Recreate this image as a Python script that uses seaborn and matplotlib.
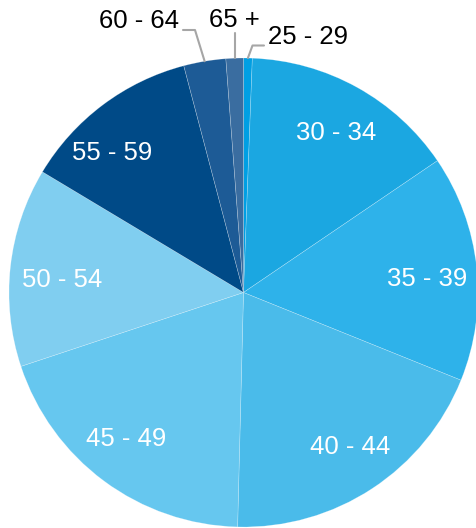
import numpy as np
import matplotlib
matplotlib.use("Agg")
import matplotlib.pyplot as plt
import seaborn as sns

# Age-group shares (percent), clockwise from 12 o'clock
age_groups = ["25 - 29", "30 - 34", "35 - 39", "40 - 44", "45 - 49",
              "50 - 54", "55 - 59", "60 - 64", "65 +"]
shares = [0.6, 14.9, 15.6, 19.3, 19.5, 13.7, 12.3, 2.9, 1.2]
slice_colors = ["#009FE3", "#1BA7E1", "#2EB2EA", "#4ABBEA", "#66C7EF",
                "#80CEF0", "#004A87", "#1D5B96", "#3A6DA0"]
outside_groups = ["25 - 29", "60 - 64", "65 +"]

sns.set_theme(style="white")
plt.rcParams["font.family"] = ["Liberation Sans", "DejaVu Sans"]

W, H = 477, 528
fig = plt.figure(figsize=(W / 100, H / 100), dpi=100)
cx, cy, R = 243.5, 292.5, 234.5
ax = fig.add_axes([(cx - R) / W, (H - cy - R) / H, 2 * R / W, 2 * R / H])

palette = sns.color_palette(slice_colors)
wedges, _ = ax.pie(shares, colors=palette, startangle=90, counterclock=False,
                   radius=1.0, wedgeprops=dict(linewidth=0.4, edgecolor=(1, 1, 1, 0.35)))
ax.set_xlim(-1, 1)
ax.set_ylim(-1, 1)
ax.set_aspect("equal")
ax.axis("off")


def px(x, y):
    """Convert figure pixel coordinates to data units."""
    return (x - cx) / R, (cy - y) / R


fs = 18.5
# small nudges (pixels) for inside labels
nudge = {"30 - 34": (2, 5), "35 - 39": (-3, 7), "40 - 44": (4, -2),
         "45 - 49": (-6, -4), "50 - 54": (5, 8), "55 - 59": (-19, 11)}
for w, lab in zip(wedges, age_groups):
    if lab in outside_groups:
        continue
    mid = np.deg2rad((w.theta1 + w.theta2) / 2)
    r = 0.80
    dx, dy = nudge.get(lab, (0, 0))
    ax.text(r * np.cos(mid) + dx / R, r * np.sin(mid) - dy / R, lab,
            color="white", fontsize=fs, ha="center", va="center")

line_kw = dict(color="#A6A6A6", lw=1.5, clip_on=False)
for w, lab in zip(wedges, age_groups):
    if lab not in outside_groups:
        continue
    mid = np.deg2rad((w.theta1 + w.theta2) / 2)
    ex, ey = np.cos(mid), np.sin(mid)
    if lab == "25 - 29":
        kx, ky = px(252.5, 45.5)
        tx, ty = px(264, 45.5)
        ax.plot([ex, kx, tx], [ey, ky, ty], **line_kw)
        lx, ly = px(268, 37)
        ax.text(lx, ly, lab, fontsize=fs, color="black", ha="left", va="center", clip_on=False)
    elif lab == "60 - 64":
        kx, ky = px(195, 30)
        tx, ty = px(183, 30)
        ax.plot([ex, kx, tx], [ey, ky, ty], **line_kw)
        lx, ly = px(179, 21)
        ax.text(lx, ly, lab, fontsize=fs, color="black", ha="right", va="center", clip_on=False)
    else:
        kx, ky = px(ex * R + cx, 33)
        ax.plot([ex, kx], [ey, ky], **line_kw)
        lx, ly = px(234, 20)
        ax.text(lx, ly, lab, fontsize=fs, color="black", ha="center", va="center", clip_on=False)

fig.savefig("out.png", dpi=100)
